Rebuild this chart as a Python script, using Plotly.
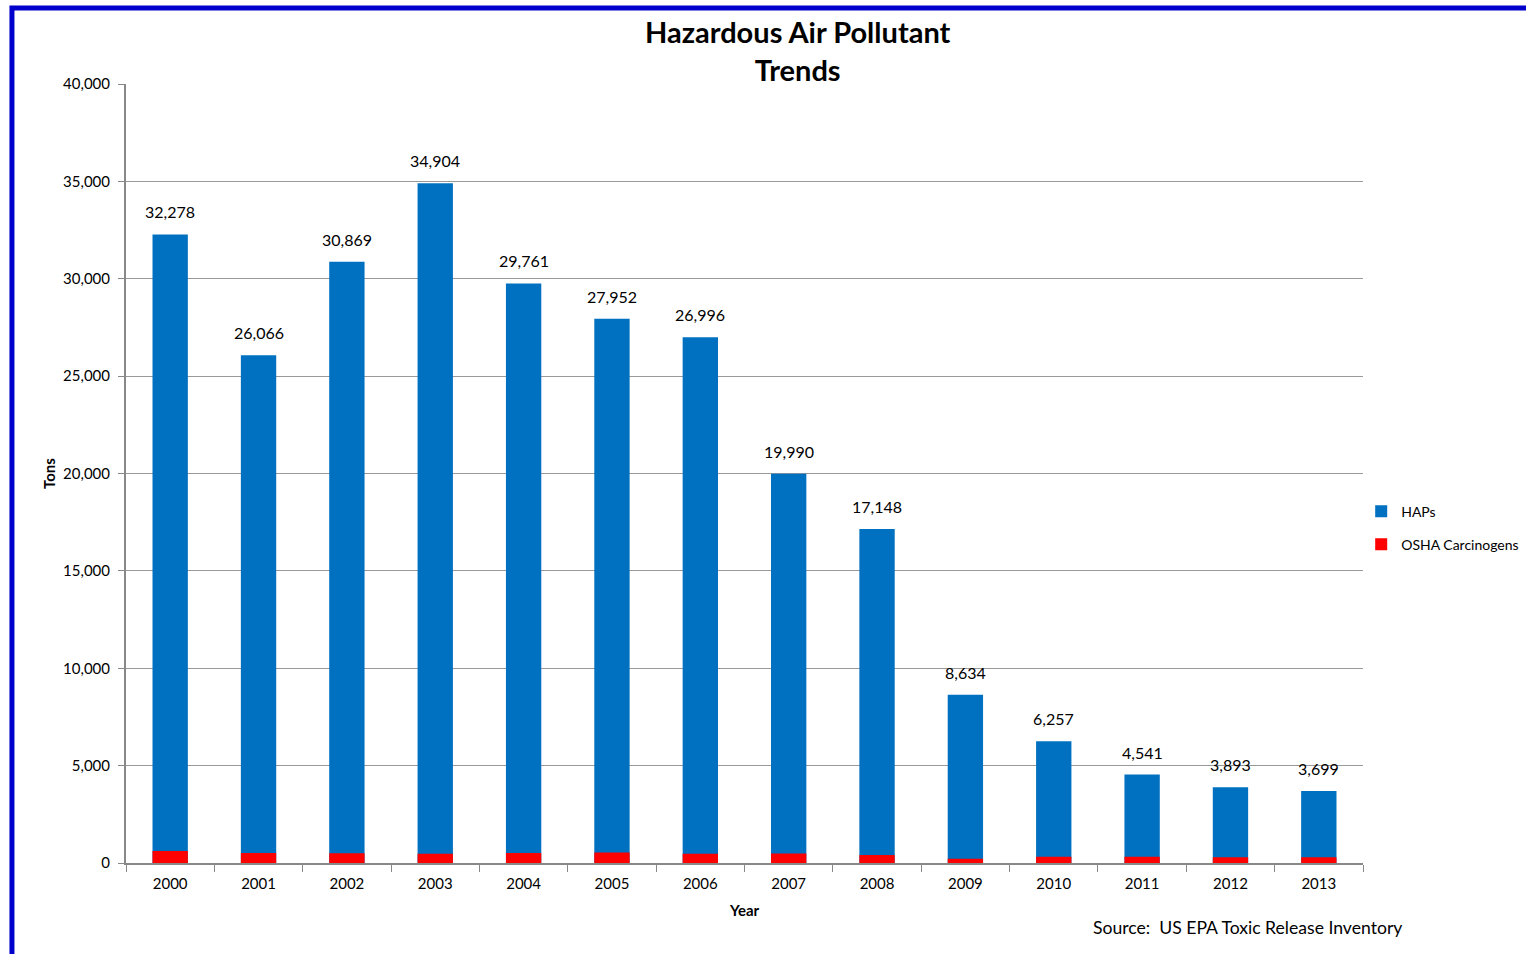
import plotly.graph_objects as go

years = ['2000', '2001', '2002', '2003', '2004', '2005', '2006',
         '2007', '2008', '2009', '2010', '2011', '2012', '2013']
haps = [32278, 26066, 30869, 34904, 29761, 27952, 26996,
        19990, 17148, 8634, 6257, 4541, 3893, 3699]
osha = [610, 510, 500, 480, 510, 540, 475, 490, 410, 220, 320, 320, 300, 290]

font = 'Lato, Open Sans, sans-serif'

fig = go.Figure()
fig.add_trace(go.Bar(x=years, y=haps, name='HAPs', marker_color='#0070C0',
                     marker_line_width=0, width=0.4, legendgroup='haps'))
fig.add_trace(go.Bar(x=years, y=osha, name='OSHA Carcinogens', marker_color='#FF0000',
                     marker_line_width=0, width=0.4, legendgroup='osha'))

# value labels above the HAPs bars, lifted a little like the original
# (category axis: annotation x is the category's index)
for i, v in enumerate(haps):
    fig.add_annotation(x=i, y=v, text=f'{v:,}', showarrow=False, yanchor='bottom',
                       yshift=11, font=dict(size=16, color='black'))

fig.update_layout(
    width=1526, height=954,
    barmode='overlay',
    plot_bgcolor='white', paper_bgcolor='white',
    font=dict(family=font, size=15, color='black'),
    margin=dict(l=126, r=163, t=84, b=91, autoexpand=False),
    legend=dict(xref='container', x=0.892, y=0.43, xanchor='left', yanchor='middle',
                font=dict(size=14), traceorder='grouped', tracegroupgap=12, itemwidth=30),
    showlegend=True,
)
fig.update_xaxes(type='category', showline=True, linecolor='#888888', linewidth=2,
                 ticks='outside', tickson='boundaries', ticklen=7, tickcolor='#888888',
                 automargin=False, ticklabelstandoff=6,
                 title=dict(text='<b>Year</b>', font=dict(size=15), standoff=14))
fig.update_yaxes(range=[0, 40000], dtick=5000, tickformat=',', showgrid=True,
                 gridcolor='#999999', gridwidth=1, showline=True, linecolor='#888888',
                 linewidth=2, ticks='outside', ticklen=6, tickcolor='#888888',
                 ticklabelstandoff=5, zeroline=False, automargin=False,
                 title=dict(text='<b>Tons</b>', font=dict(size=15), standoff=4))

# title as an annotation so both lines sit where the reference has them
fig.add_annotation(text='<b>Hazardous Air Pollutant<br>Trends</b>', xref='paper', yref='paper',
                   x=0.543, y=1.0424, xanchor='center', yanchor='middle', showarrow=False,
                   font=dict(size=29))

fig.add_annotation(text='Source:  US EPA Toxic Release Inventory', xref='paper', yref='paper',
                   x=1.0335, y=-0.0822, xanchor='right', yanchor='middle', showarrow=False,
                   font=dict(size=17.6))

# blue frame around the chart
fig.add_shape(type='rect', xref='paper', yref='paper', x0=-0.0922, x1=2, y0=-1, y1=1.0976,
              line=dict(color='#0000CC', width=5), layer='below')

# drop the browser's default body margin so the figure sits at the page corner
fig.write_html('out.html', config={'displayModeBar': False},
               post_script="document.body.style.margin='0';")
